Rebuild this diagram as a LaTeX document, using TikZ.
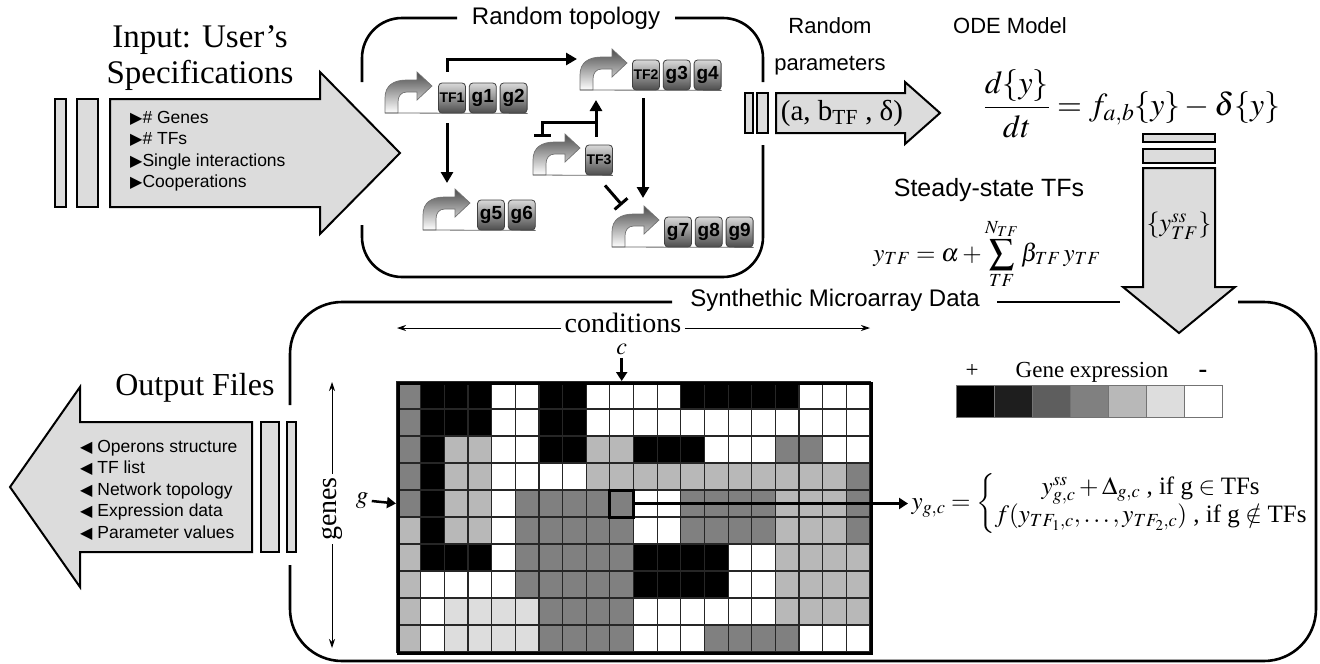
\documentclass[tikz,border=0pt]{standalone}
\usepackage{amsmath}
\usepackage{mathptmx}
\usepackage{fontspec}
\setmainfont{Liberation Serif}
\setsansfont{Liberation Sans}
\newfontfamily\symfont{DejaVu Sans}
\usetikzlibrary{arrows.meta,positioning}

\definecolor{arrowgray}{HTML}{DCDCDC}
\definecolor{cK}{HTML}{000000}
\definecolor{cD}{HTML}{1E1E1E}
\definecolor{cM}{HTML}{5E5E5E}
\definecolor{cG}{HTML}{808080}
\definecolor{cL}{HTML}{B8B8B8}
\definecolor{cV}{HTML}{DDDDDD}
\definecolor{cW}{HTML}{FFFFFF}

\newcommand{\fs}[1]{\fontsize{#1}{#1}\selectfont}

\tikzset{
  bigarrow/.style={draw, line width=2pt, fill=arrowgray, line join=miter},
  slab/.style={draw, line width=1.6pt, fill=arrowgray},
  frame/.style={line width=2.6pt},
  sanslab/.style={font=\sffamily\fs{#1}},
  serif/.style={font=\fs{#1}},
  item/.style={anchor=base west, inner sep=0pt, font=\sffamily\fs{17.5}},
  gene/.style={draw=black!75, line width=0.8pt, rounded corners=3.5pt, top color=black!15, bottom color=black!70,
    minimum width=27pt, minimum height=30pt, inner sep=0pt, font=\sffamily\bfseries\fs{19}},
  tf/.style={gene, font=\sffamily\bfseries\fs{14}},
  act/.style={line width=3pt, -{Triangle[length=11pt,width=12pt]}},
  inh/.style={line width=3pt, -{Bar[width=17pt]}},
  thinarr/.style={line width=0.9pt, -{Stealth[length=9pt,width=6pt]}},
  fatarr/.style={line width=2.5pt, -{Triangle[length=9pt,width=11pt]}},
  cell/.style={draw=black!85, line width=1.2pt},
  promoter/.pic={
    \shadedraw[top color=black!70, bottom color=white, draw=black!55, line width=0.7pt]
      (0,0) -- (0,-15) .. controls (0,-28) and (9,-33) .. (22,-33) -- (32,-33) -- (32,-41)
      -- (47,-27) -- (32,-13) -- (32,-21) -- (22,-21) .. controls (16,-21) and (13,-17) .. (13,-11)
      -- (13,0) -- cycle;
  }
}

\begin{document}
\begin{tikzpicture}[x=1pt,y=-1pt]
	\useasboundingbox (0,0) rectangle (1320,664);

	% input
	\draw[slab] (55,99) rectangle (66,207);
	\draw[slab] (77,99) rectangle (98,207);
	\draw[bigarrow] (110,99) -- (320,99) -- (320,72) -- (400,153) -- (320,234) -- (320,207) -- (110,207) -- cycle;
	\node[serif=33, anchor=base] (in1) at (200,47) {Input: User’s};
	\node[serif=33, anchor=base] (in2) at (200,83) {Specifications};
	\foreach \t [count=\i from 0] in {\# Genes,\# TFs,Single interactions,Cooperations}
		\node[item] (in-\i) at (130,123+21.5*\i) {{\symfont\fs{16}▶}\t};

	% random topology
	\draw[frame, rounded corners=40pt] (362,82) |- (457,18);
	\draw[frame, rounded corners=40pt] (675,18) -| (763,82);
	\draw[frame, rounded corners=40pt] (763,145) |- (362,277) -- (362,225);
	\node[sanslab=24] (rt) at (566,18) {Random topology};

	\coordinate (P1) at (385,113);
	\coordinate (P2) at (580,90);
	\coordinate (P3) at (533,175);
	\coordinate (P4) at (423,230);
	\coordinate (P5) at (612,247);
	\foreach \p in {P1,P2,P3,P4,P5}
		\pic at (\p) {promoter};

	\node[tf] (TF1) at (452,98) {TF1};
	\node[gene, right=3pt of TF1] (g1) {g1};
	\node[gene, right=3pt of g1] (g2) {g2};
	\node[tf] (TF2) at (646,75) {TF2};
	\node[gene, right=3pt of TF2] (g3) {g3};
	\node[gene, right=3pt of g3] (g4) {g4};
	\node[tf] (TF3) at (599,160) {TF3};
	\node[gene] (g5) at (491,215) {g5};
	\node[gene, right=3pt of g5] (g6) {g6};
	\node[gene] (g7) at (678,232) {g7};
	\node[gene, right=3pt of g7] (g8) {g8};
	\node[gene, right=3pt of g8] (g9) {g9};

	\draw[black!60, line width=0.8pt] (P1) -- (g2.south east);
	\draw[black!60, line width=0.8pt] (P2) -- (g4.south east);
	\draw[black!60, line width=0.8pt] (P3) -- (TF3.south east);
	\draw[black!60, line width=0.8pt] (P4) -- (g6.south east);
	\draw[black!60, line width=0.8pt] (P5) -- (g9.south east);

	\draw[act] ([shift={(-5,-11)}]TF1.north) |- ([shift={(-3,-31)}]P2);
	\draw[act] ([shift={(-5,10)}]TF1.south) -- ([shift={(24,-47)}]P4);
	\draw[act] ([shift={(-3,8)}]TF2.south) -- ([shift={(31,-49)}]P5);
	\draw[act] ([shift={(-3,-8)}]TF3.north) -- ([shift={(16,10)}]P2);
	\coordinate (J) at ([shift={(-3,-22)}]TF3.north);
	\draw[inh] (J) -| ([shift={(9,-38)}]P3);
	\draw[inh] ([shift={(6,10)}]TF3.south) -- ([shift={(10,-42)}]P5);

	% random parameters
	\draw[slab] (745,93) rectangle (753,133);
	\draw[slab] (757,93) rectangle (768,133);
	\draw[bigarrow] (776,93) -- (905,93) -- (905,82) -- (940,113) -- (905,144) -- (905,133) -- (776,133) -- cycle;
	\node[serif=29] (par) at (842,113) {(a, b\textsubscript{TF} , δ)};
	\node[sanslab=22, anchor=base] (rp1) at (830,33) {Random};
	\node[sanslab=22, anchor=base] (rp2) at (830,70) {parameters};

	% ODE model
	\node[sanslab=22, anchor=base] (odet) at (1010,33) {ODE Model};
	\node[serif=32] (ode) at (1132,104) {$\dfrac{d\{y\}}{dt}=f_{a,b}\{y\}-\delta\{y\}$};

	% steady state
	\draw[slab] (1143,134) rectangle (1215,142);
	\draw[slab] (1143,149) rectangle (1215,163);
	\draw[bigarrow] (1143,168) -- (1215,168) -- (1215,287) -- (1235,287) -- (1179,333) -- (1123,287) -- (1143,287) -- cycle;
	\node[serif=26] (yss) at (1179,226) {$\left\{y^{ss}_{TF}\right\}$};
	\node[sanslab=25, anchor=base] (sst) at (989,196) {Steady-state TFs};
	\node[serif=25] (sseq) at (987,254) {$\displaystyle y_{TF}=\alpha+\sum_{TF}^{N_{TF}}\beta_{TF}\,y_{TF}$};

	% synthetic microarray data
	\draw[frame, rounded corners=52pt] (290,405) |- (672,302);
	\draw[frame] (997,302) -- (1120,302);
	\draw[frame, rounded corners=52pt] (1238,302) -| (1316,661) -| (290,565);
	\node[sanslab=24] (smd) at (835,300) {Synthethic Microarray Data};

	\foreach \row [count=\r from 0] in {
		{G,K,K,K,W,W,K,K,W,W,W,W,K,K,K,K,K,W,W,W},
		{G,K,K,K,W,W,K,K,W,W,W,W,W,W,W,W,W,W,W,W},
		{G,K,L,L,W,W,K,K,L,L,K,K,K,W,W,W,G,G,W,W},
		{G,K,L,L,W,W,W,W,L,L,L,L,L,L,L,L,L,L,L,G},
		{G,K,L,L,W,G,G,G,G,G,W,W,G,G,G,G,L,L,L,G},
		{L,K,L,L,W,G,G,G,G,G,W,W,G,G,G,G,L,L,L,G},
		{L,K,K,K,W,G,G,G,G,G,K,K,K,K,W,W,L,L,L,L},
		{L,W,W,W,W,G,G,G,G,G,K,K,K,K,W,W,L,L,L,L},
		{L,W,V,V,V,V,G,G,G,G,W,W,W,W,W,W,L,L,L,L},
		{L,W,V,V,V,V,G,G,G,G,W,W,W,G,G,G,G,W,W,W}}
		\foreach \c [count=\k from 0] in \row
			\draw[cell, fill=c\c] (397+23.65*\k,382+27*\r) rectangle ++(23.65,27);
	\node[draw, line width=3pt, anchor=north west, minimum width=473pt, minimum height=270pt, inner sep=0pt] (grid) at (397,382) {};
	\node[draw, line width=3pt, minimum width=23.65pt, minimum height=27pt, inner sep=0pt] (cell) at (621.7,503.5) {};

	\node[serif=28] (cond) at (623,323) {conditions};
	\coordinate (cl) at (397,328);
	\coordinate (cr) at (870,328);
	\draw[thinarr] (cond.west |- cl) -- (cl);
	\draw[thinarr] (cond.east |- cr) -- (cr);
	\node[serif=24] (clab) at (621.7,349) {$c$};
	\coordinate (ctop) at (621.7,381);
	\draw[fatarr] (clab.south) -- (ctop);

	\node[serif=28, rotate=90] (genes) at (332,509) {genes};
	\coordinate (gtop) at (332,382);
	\coordinate (gbot) at (332,648);
	\draw[thinarr] (genes.east) -- (gtop);
	\draw[thinarr] (genes.west) -- (gbot);
	\node[serif=25] (glab) at (362,501) {$g$};
	\coordinate (gleft) at (396,503.5);
	\draw[fatarr] (glab.east) -- (gleft);

	% legend
	\node[serif=23, anchor=base] (plus) at (972,377) {+};
	\node[serif=23, anchor=base] (gexp) at (1092,377) {Gene expression};
	\node[serif=26, anchor=base] (minus) at (1203,377) {\bfseries -};
	\foreach \c [count=\i from 0] in {K,D,M,G,L,V,W}
		\draw[draw=black!55, line width=0.8pt, fill=c\c] (956+38.1*\i,385) rectangle ++(38.1,32);

	\node[serif=25, anchor=west] (ygc) at (908,503.5)
		{$y_{g,c}=\left\{\begin{array}{@{}c@{}}
			y^{ss}_{g,c}+\Delta_{g,c}\text{ , if g}\in\text{TFs}\\[2pt]
			f(y_{TF_1,c},\ldots,y_{TF_2,c})\text{ , if g}\notin\text{TFs}
		\end{array}\right.$};
	\draw[fatarr] (cell.east) -- (ygc.west);

	% output
	\node[serif=32, anchor=base east] (outt) at (278,395) {Output Files};
	\draw[slab] (261,422) rectangle (279,552);
	\draw[slab] (287,422) rectangle (296,552);
	\draw[bigarrow] (252,422) -- (80,422) -- (80,387) -- (10,487) -- (80,587) -- (80,552) -- (252,552) -- cycle;
	\foreach \t [count=\i from 0] in {Operons structure,TF list,Network topology,Expression data,Parameter values}
		\node[item] (out-\i) at (80,452+21.5*\i) {{\symfont\fs{16}◀} \t};
\end{tikzpicture}
\end{document}
